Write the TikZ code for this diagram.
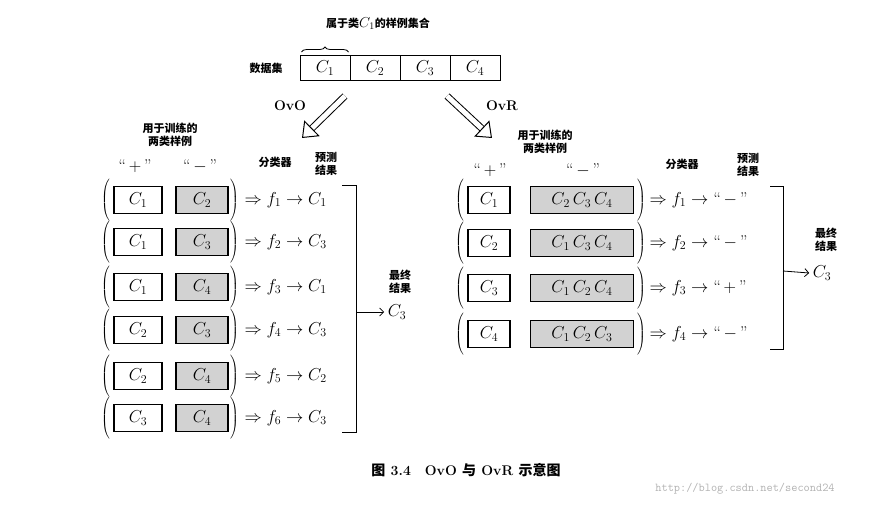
\documentclass[tikz,border=0pt]{standalone}
\usepackage{fontspec}
\newfontfamily\cjk{Noto Sans CJK SC}
\usetikzlibrary{decorations.pathreplacing,arrows.meta,calc}
\begin{document}
\begin{tikzpicture}[x=1pt,y=-1pt,
  every node/.style={font=\fontsize{17}{19}\selectfont},
  cj/.style={font=\cjk\fontsize{11}{13}\selectfont\bfseries,align=center,inner sep=1pt},
  pbox/.style={draw,line width=1.1pt,minimum height=27pt,inner sep=0pt},
  nbox/.style={pbox,fill=gray!35},
  par/.style={inner sep=0pt},
  hollow/.style={double,double distance=5pt,line width=1pt,-{Triangle[open,length=14pt,width=22pt]}}]
\useasboundingbox (0,0) rectangle (871,508);
\newcommand\lp{$\left(\vrule height 16pt depth 16pt width 0pt\right.$}
\newcommand\rp{$\left.\vrule height 16pt depth 16pt width 0pt\right)$}
% top
\node[cj] (ds) at (266,68) {数据集};
\foreach \i/\x in {1/325,2/375,3/425,4/475}
  \node[draw,line width=1pt,minimum width=50pt,minimum height=25pt,inner sep=0pt] (t\i) at (\x,68) {$C_\i$};
\draw[decorate,decoration={brace,amplitude=5pt},line width=0.8pt] ($(t1.north west)+(2,-3)$) -- ($(t1.north east)+(-2,-3)$);
\node[cj] (lab) at (378,24) {属于类{\fontsize{14}{16}\selectfont$C_1$}的样例集合};
\coordinate (o1) at (345,96); \coordinate (o2) at (302,138);
\coordinate (r1) at (447,96); \coordinate (r2) at (492,138);
\draw[hollow] (o1) -- (o2);
\draw[hollow] (r1) -- (r2);
\node[font=\bfseries\fontsize{14}{16}\selectfont] (ovo) at (290,106) {OvO};
\node[font=\bfseries\fontsize{14}{16}\selectfont] (ovr) at (502,106) {OvR};
% left headers
\node[cj] (h1) at (170,135) {用于训练的\\两类样例};
\node (hp) at (135,166) {``\,$+$\,''};
\node (hn) at (200,166) {``\,$-$\,''};
\node[cj] (h2) at (275,162) {分类器};
\node[cj] (h3) at (326,164) {预测\\结果};
\foreach \k/\y/\a/\b/\f/\c in {1/200/1/2/1/1,2/242/1/3/2/3,3/287/1/4/3/1,4/330/2/3/4/3,5/376/2/4/5/2,6/418/3/4/6/3}{
  \node[par] (lp\k) at (106,\y) {\lp};
  \node[pbox,minimum width=48pt] (lpb\k) at (138,\y) {$C_\a$};
  \node[nbox,minimum width=52pt] (lnb\k) at (202,\y) {$C_\b$};
  \node[par] (rp\k) at (234,\y) {\rp};
  \node[anchor=west] (lf\k) at (241,\y) {$\Rightarrow f_\f\rightarrow C_\c$};
}
\coordinate (lb1) at (342,185); \coordinate (lb2) at (356,185);
\coordinate (lb3) at (356,432); \coordinate (lb4) at (342,432);
\draw[line width=0.8pt] (lb1) -- (lb2) -- (lb3) -- (lb4);
\coordinate (la) at (356,312);
\node (lc) at (397,312) {$C_3$};
\draw[line width=0.8pt,-{Straight Barb[length=4pt]}] (la) -- (lc.west);
\node[cj] (lr) at (400,282) {最终\\结果};
% right
\node[cj] (g1) at (545,142) {用于训练的\\两类样例};
\node (gp) at (490,170) {``\,$+$\,''};
\node (gn) at (583,170) {``\,$-$\,''};
\node[cj] (g2) at (682,164) {分类器};
\node[cj] (g3) at (748,165) {预测\\结果};
\foreach \k/\y/\a/\n/\f/\s in {1/200/1/{C_2\,C_3\,C_4}/1/-,2/243/2/{C_1\,C_3\,C_4}/2/-,3/288/3/{C_1\,C_2\,C_4}/3/+,4/334/4/{C_1\,C_2\,C_3}/4/-}{
  \node[par] (qp\k) at (460,\y) {\lp};
  \node[pbox,minimum width=42pt] (qpb\k) at (489,\y) {$C_\a$};
  \node[nbox,minimum width=103pt] (qnb\k) at (582,\y) {$\n$};
  \node[par] (qr\k) at (641,\y) {\rp};
  \node[anchor=west] (qf\k) at (646,\y) {$\Rightarrow f_\f\rightarrow$ ``\,$\s$\,''};
}
\coordinate (rb1) at (770,186); \coordinate (rb2) at (783,186);
\coordinate (rb3) at (783,349); \coordinate (rb4) at (770,349);
\draw[line width=0.8pt] (rb1) -- (rb2) -- (rb3) -- (rb4);
\coordinate (ra) at (783,271);
\node (rc) at (822,273) {$C_3$};
\draw[line width=0.8pt,-{Straight Barb[length=4pt]}] (ra) -- (rc.west);
\node[cj] (rr) at (826,240) {最终\\结果};
% caption
\node[font=\fontsize{14}{16}\selectfont\bfseries] (cap) at (466,470) {{\cjk 图} 3.4\quad OvO {\cjk 与} OvR {\cjk 示意图}};
\node[font=\ttfamily\fontsize{12}{14}\selectfont,text=gray!60] (wm) at (745,489) {http://blog.csdn.net/second24};
\end{tikzpicture}
\end{document}
